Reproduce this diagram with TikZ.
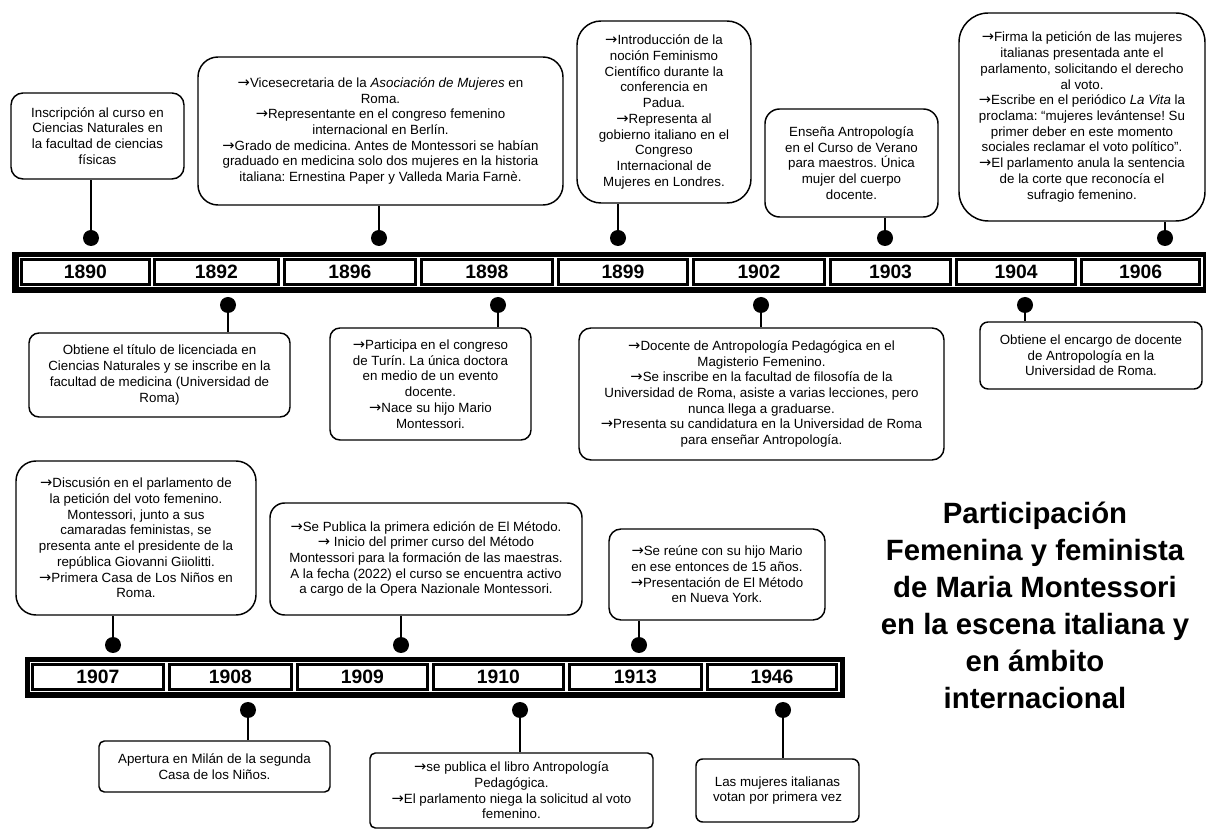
\documentclass[tikz,border=0pt]{standalone}
\usepackage{fontspec}
\setmainfont{Liberation Sans}
\newfontfamily\arrowfont{DejaVu Sans}
\frenchspacing
\newcommand{\evfont}{\fontsize{10}{11.8}\selectfont}
\newcommand{\yrfont}{\fontsize{14.5}{14.5}\selectfont\bfseries}
\newcommand{\ttlfont}{\fontsize{22}{27.75}\selectfont\bfseries}
\newcommand{\ra}{{\arrowfont\fontsize{11}{11.8}\selectfont →}}

\begin{document}
\begin{tikzpicture}[x=0.75pt, y=-0.75pt]
    \tikzstyle{event} = [rectangle, rounded corners=9pt, draw, line width=1.1pt, align=center, inner sep=0pt, font=\evfont]
    \tikzstyle{marker} = [circle, fill, inner sep=0pt, minimum size=12pt]
    \tikzstyle{stem} = [line width=1.5pt]
    \tikzstyle{cellborder} = [line width=2.6pt]
    \tikzstyle{yearlabel} = [font=\yrfont, inner sep=0pt]
    \useasboundingbox (0,0) rectangle (1208,830);

    % Upper time bar
    \fill (12,252) rectangle (1206,293);
    \fill[white] (18.5,257) rectangle (1202.5,287.5);
    \foreach \xa/\xb/\yr in {20/151/1890, 153/280/1892, 283/417/1896, 420/554/1898, 557/689/1899, 692/826/1902, 829/952/1903, 955/1077/1904, 1080/1201/1906} {
        \draw[cellborder] (\xa+1.75,259.75) rectangle (\xb-1.75,284.75);
        \node[yearlabel] (y\yr) at ({(\xa+\xb)/2},272) {\yr};
    }

    % Lower time bar
    \fill (25,657) rectangle (845,698);
    \fill[white] (30,662) rectangle (840,692.5);
    \foreach \xa/\xb/\yr in {31/165/1907, 168/293/1908, 296/429/1909, 432/565/1910, 568/703/1913, 706/838/1946} {
        \draw[cellborder] (\xa+1.75,664.75) rectangle (\xb-1.75,689.75);
        \node[yearlabel] (y\yr) at ({(\xa+\xb)/2},677) {\yr};
    }

    % Events above the upper bar
    \node[event, minimum width=129.75pt, minimum height=64.5pt] (b1890) at (97.5,136) {Inscripción al curso en\\Ciencias Naturales en\\la facultad de ciencias\\físicas};
    \node[event, rounded corners=15pt, minimum width=273.75pt, minimum height=111pt] (b1896) at (380.5,131) {\ra Vicesecretaria de la \textit{Asociación de Mujeres} en\\Roma.\\\ra Representante en el congreso femenino\\internacional en Berlín.\\\ra Grado de medicina. Antes de Montessori se habían\\graduado en medicina solo dos mujeres en la historia\\italiana: Ernestina Paper y Valleda Maria Farnè.};
    \node[event, rounded corners=18pt, minimum width=130.5pt, minimum height=136.5pt] (b1899) at (664,112) {\ra Introducción de la\\noción Feminismo\\Científico durante la\\conferencia en\\Padua.\\\ra Representa al\\gobierno italiano en el\\Congreso\\Internacional de\\Mujeres en Londres.};
    \node[event, rounded corners=11pt, minimum width=129.75pt, minimum height=81pt] (b1903) at (851.5,163) {Enseña Antropología\\en el Curso de Verano\\para maestros. Única\\mujer del cuerpo\\docente.};
    \node[event, rounded corners=22pt, minimum width=184.5pt, minimum height=156pt] (b1906) at (1082,117) {\ra Firma la petición de las mujeres\\italianas presentada ante el\\parlamento, solicitando el derecho\\al voto.\\\ra Escribe en el periódico \textit{La Vita} la\\proclama: “mujeres levántense! Su\\primer deber en este momento\\sociales reclamar el voto político”.\\\ra El parlamento anula la sentencia\\de la corte que reconocía el\\sufragio femenino.};

    % Events below the upper bar
    \node[event, rounded corners=7.5pt, minimum width=195.75pt, minimum height=63pt] (b1892) at (159.5,375) {Obtiene el título de licenciada en\\Ciencias Naturales y se inscribe en la\\facultad de medicina (Universidad de\\Roma)};
    \node[event, rounded corners=7.5pt, minimum width=150.75pt, minimum height=84pt] (b1898) at (430.5,384) {\ra Participa en el congreso\\de Turín. La única doctora\\en medio de un evento\\docente.\\\ra Nace su hijo Mario\\Montessori.};
    \node[event, minimum width=273.75pt, minimum height=99pt] (b1902) at (761.5,394) {\ra Docente de Antropología Pedagógica en el\\Magisterio Femenino.\\\ra Se inscribe en la facultad de filosofía de la\\Universidad de Roma, asiste a varias lecciones, pero\\nunca llega a graduarse.\\\ra Presenta su candidatura en la Universidad de Roma\\para enseñar Antropología.};
    \node[event, rounded corners=6pt, minimum width=166.5pt, minimum height=50.25pt] (b1904) at (1091,355.5) {Obtiene el encargo de docente\\de Antropología en la\\Universidad de Roma.};

    % Events above the lower bar
    \node[event, rounded corners=15pt, minimum width=180pt, minimum height=115.5pt] (b1907) at (136,538) {\ra Discusión en el parlamento de\\la petición del voto femenino.\\Montessori, junto a sus\\camaradas feministas, se\\presenta ante el presidente de la\\república Giovanni Giiolitti.\\\ra Primera Casa de Los Niños en\\Roma.};
    \node[event, rounded corners=11pt, minimum width=234pt, minimum height=84pt] (b1909) at (426,559) {\ra Se Publica la primera edición de El Método.\\\ra{} Inicio del primer curso del Método\\Montessori para la formación de las maestras.\\A la fecha (2022) el curso se encuentra activo\\a cargo de la Opera Nazionale Montessori.};
    \node[event, minimum width=162pt, minimum height=68.25pt] (b1913) at (717,574.5) {\ra Se reúne con su hijo Mario\\en ese entonces de 15 años.\\\ra Presentación de El Método\\en Nueva York.};

    % Events below the lower bar
    \node[event, rounded corners=4pt, minimum width=173.25pt, minimum height=38.25pt] (b1908) at (214.5,766.5) {Apertura en Milán de la segunda\\Casa de los Niños.};
    \node[event, rounded corners=4pt, minimum width=212.25pt, minimum height=56.25pt] (b1910) at (511.5,790.5) {\ra se publica el libro Antropología\\Pedagógica.\\\ra El parlamento niega la solicitud al voto\\femenino.};
    \node[event, rounded corners=5pt, minimum width=122.25pt, minimum height=47.25pt] (b1946) at (777.5,790.5) {Las mujeres italianas\\votan por primera vez};

    % Markers
    \node[marker] (d1890) at (91,238) {};
    \node[marker] (d1896) at (379,238) {};
    \node[marker] (d1899) at (618,238) {};
    \node[marker] (d1903) at (885,238) {};
    \node[marker] (d1906) at (1165,238) {};
    \node[marker] (d1892) at (228,305) {};
    \node[marker] (d1898) at (498,305) {};
    \node[marker] (d1902) at (761,305) {};
    \node[marker] (d1904) at (1025,305) {};
    \node[marker] (d1907) at (113,645) {};
    \node[marker] (d1909) at (401,645) {};
    \node[marker] (d1913) at (639,645) {};
    \node[marker] (d1908) at (248,710) {};
    \node[marker] (d1910) at (520,710) {};
    \node[marker] (d1946) at (783,710) {};

    % Stems
    \foreach \yr in {1890,1896,1899,1903,1906,1907,1909,1913}
        \draw[stem] (d\yr.center) -- (d\yr |- b\yr.south);
    \foreach \yr in {1892,1898,1902,1904,1908,1910,1946}
        \draw[stem] (d\yr.center) -- (d\yr |- b\yr.north);

    % Title
    \node[font=\ttlfont, align=center] (title) at (1035,605) {Participación\\Femenina y feminista\\de Maria Montessori\\en la escena italiana y\\en ámbito\\internacional};
\end{tikzpicture}
\end{document}
